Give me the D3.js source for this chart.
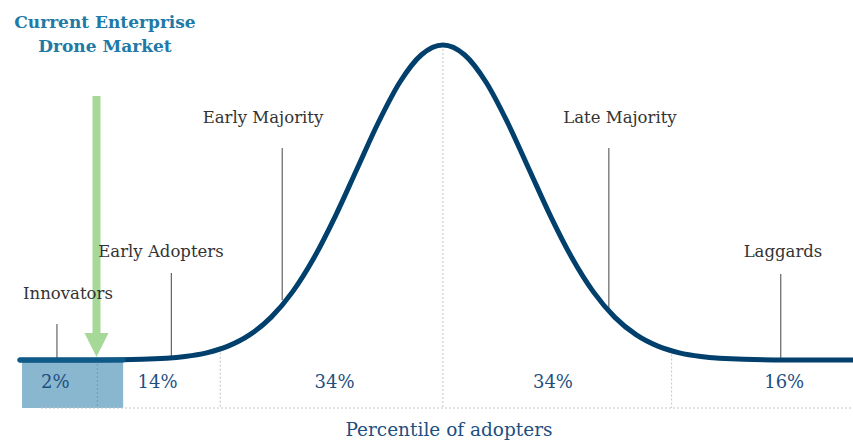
<!DOCTYPE html>
<html>
<head>
<meta charset="utf-8">
<script src="https://cdn.jsdelivr.net/npm/d3@7"></script>
<style>
  html, body { margin: 0; padding: 0; background: #fff; }
  svg { display: block; }
</style>
</head>
<body>
<svg id="chart" width="853" height="440"></svg>
<script>
// ---- data (x in standard deviations from the mean, y as share of peak height) ----
const curveX = [-4.92, -4, -3.5, -3, -2.75, -2.5, -2.25, -2, -1.75, -1.5, -1.25, -1, -0.75, -0.5, -0.25, 0,
                0.25, 0.5, 0.75, 1, 1.25, 1.5, 1.75, 2, 2.25, 2.5, 2.75, 3, 3.5, 4, 4.77];
const curveY = [0, 0.0003, 0.0022, 0.0111, 0.0228, 0.0439, 0.0796, 0.1353, 0.2163, 0.3247, 0.4578, 0.6065, 0.7548, 0.8825, 0.969, 1,
                0.969, 0.8825, 0.7548, 0.6065, 0.4578, 0.3247, 0.2163, 0.1353, 0.0796, 0.0439, 0.0228, 0.0111, 0.0022, 0.0003, 0];

const categories   = ["Innovators", "Early Adopters", "Early Majority", "Late Majority", "Laggards"];
const categoryX    = [-4.49, -3.16, -1.87, 1.93, 3.93];     // where each pointer line sits
const categoryCurve = [0, 0.007, 0.19, 0.16, 0];           // curve height at pointer

const segmentLabels = ["2%", "14%", "34%", "34%", "16%"];
const segmentCenters = [-4.51, -3.32, -1.26, 1.28, 3.97];
const dividers = [-4.02, -2.59, 0, 2.66];
const dividerTop = [0, 0.036, 1, 0.03];

const marketStart = -4.92, marketEnd = -3.72;   // highlighted "current market" box
const marketPosition = -4.03;                    // arrow position
const titleLines = ["Current Enterprise", "Drone Market"];
const axisTitle = "Percentile of adopters";

// ---- layout ----
const svg = d3.select("#chart");
const x = d3.scaleLinear().domain([-4.92, 4.77]).range([20, 853]);
const y = d3.scaleLinear().domain([0, 1]).range([360, 45]);
const bottomY = 408;
const serif = "'DejaVu Serif', Georgia, serif";

// highlighted box
svg.append("rect")
  .attr("x", x(marketStart) + 2).attr("y", y(0))
  .attr("width", x(marketEnd) - x(marketStart) - 2).attr("height", bottomY - y(0))
  .attr("fill", "#8ab7d0");

// bottom dotted baseline
svg.append("line")
  .attr("x1", 41).attr("x2", 853).attr("y1", bottomY).attr("y2", bottomY)
  .attr("stroke", "#c4c4c4").attr("stroke-width", 1).attr("stroke-dasharray", "2,2");

// dividers
svg.selectAll("line.div").data(dividers).join("line")
  .attr("class", "div")
  .attr("x1", d => x(d)).attr("x2", d => x(d))
  .attr("y1", (d, i) => y(dividerTop[i])).attr("y2", bottomY)
  .attr("stroke", (d, i) => i === 0 ? "#6f98b4" : "#c4c4c4")
  .attr("stroke-width", 1).attr("stroke-dasharray", "2,2");

// pointer lines
const labelY = [299, 257, 123, 123, 257];
const lineTop = [324, 273, 148, 148, 274];
const labelCx = [68, 161, 263, 620, 783];
svg.selectAll("line.ptr").data(categories).join("line")
  .attr("class", "ptr")
  .attr("x1", (d, i) => x(categoryX[i])).attr("x2", (d, i) => x(categoryX[i]))
  .attr("y1", (d, i) => lineTop[i]).attr("y2", (d, i) => y(categoryCurve[i]))
  .attr("stroke", "#444").attr("stroke-width", 1);

// curve
const line = d3.line().x(d => x(d[0])).y(d => y(d[1])).curve(d3.curveMonotoneX);
const pts = curveX.map((v, i) => [v, curveY[i]]);
svg.append("path")
  .attr("d", line(pts))
  .attr("fill", "none").attr("stroke", "#013f6c").attr("stroke-width", 5)
  .attr("stroke-linecap", "round");

// lighter top edge of highlighted box
svg.append("line")
  .attr("x1", x(marketStart)).attr("x2", x(marketEnd))
  .attr("y1", y(0)).attr("y2", y(0))
  .attr("stroke", "#0e5a88").attr("stroke-width", 5).attr("stroke-linecap", "round");

// green arrow
const ax = x(marketPosition);
svg.append("rect")
  .attr("x", ax - 4).attr("y", 96).attr("width", 8).attr("height", 240)
  .attr("fill", "#a6d897");
svg.append("path")
  .attr("d", `M${ax - 12},333 L${ax + 12},333 L${ax},357 Z`)
  .attr("fill", "#a6d897");

// category labels
svg.selectAll("text.cat").data(categories).join("text")
  .attr("class", "cat")
  .attr("x", (d, i) => labelCx[i]).attr("y", (d, i) => labelY[i])
  .attr("text-anchor", "middle")
  .attr("font-family", serif).attr("font-size", 16.5)
  .attr("fill", "#333")
  .text(d => d);

// segment percentages
svg.selectAll("text.pct").data(segmentLabels).join("text")
  .attr("class", "pct")
  .attr("x", (d, i) => x(segmentCenters[i])).attr("y", 388)
  .attr("text-anchor", "middle")
  .attr("font-family", serif).attr("font-size", 18)
  .attr("fill", "#1d4f7f")
  .text(d => d);

// title
svg.selectAll("text.title").data(titleLines).join("text")
  .attr("class", "title")
  .attr("x", 105).attr("y", (d, i) => 28 + i * 24)
  .attr("text-anchor", "middle")
  .attr("font-family", serif).attr("font-weight", "bold").attr("font-size", 17)
  .attr("fill", "#2179a6")
  .text(d => d);

// axis title
svg.append("text")
  .attr("x", 449).attr("y", 436)
  .attr("text-anchor", "middle")
  .attr("font-family", serif).attr("font-size", 18.5)
  .attr("fill", "#1d4f7f")
  .text(axisTitle);
</script>
</body>
</html>
